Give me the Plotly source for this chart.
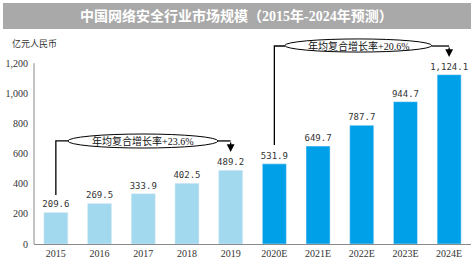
import plotly.graph_objects as go

# ---- data ----
years = ["2015", "2016", "2017", "2018", "2019", "2020E", "2021E", "2022E", "2023E", "2024E"]
values = [209.6, 269.5, 333.9, 402.5, 489.2, 531.9, 649.7, 787.7, 944.7, 1124.1]
forecast = [False, False, False, False, False, True, True, True, True, True]
y_ticks = [0, 200, 400, 600, 800, 1000, 1200]
title_text = "中国网络安全行业市场规模（2015年-2024年预测）"
unit_text = "亿元人民币"
cagr_hist = "年均复合增长率+23.6%"
cagr_fore = "年均复合增长率+20.6%"

LIGHT = "#A3D9EF"
DARK = "#00A0E9"
colors = [DARK if f else LIGHT for f in forecast]
xs = list(range(len(years)))

SERIF = "Liberation Serif, Noto Sans CJK SC, serif"
CJK = "Liberation Serif, Noto Sans CJK SC"

fig = go.Figure(go.Bar(
    x=xs, y=values, marker_color=colors, width=0.55,
    text=[f"{v:,.1f}" for v in values], textposition="outside",
    constraintext="none",
    textfont=dict(family="DejaVu Sans Mono", size=9, color="#333333"),
    cliponaxis=False, hoverinfo="skip",
))

fig.update_layout(
    width=476, height=264,
    margin=dict(l=34, r=5, t=18, b=20),
    paper_bgcolor="white", plot_bgcolor="white",
    showlegend=False,
    bargap=0.45,
)
fig.update_xaxes(
    range=[-0.5, 9.5], tickvals=xs, ticktext=years,
    showline=True, linecolor="#8a8a8a", linewidth=1,
    showgrid=False, zeroline=False, ticks="",
    tickfont=dict(family=SERIF, size=10, color="#333333"),
)
fig.update_yaxes(
    range=[0, 1500], tickvals=y_ticks, tickformat=",",
    showline=False, showgrid=False, zeroline=False, ticks="",
    ticklabelstandoff=5,
    tickfont=dict(family=SERIF, size=10, color="#333333"),
)

shapes = []
# title banner
shapes.append(dict(type="rect", xref="paper", yref="paper",
                   x0=-0.071, x1=1.0, y0=0.951, y1=1.066,
                   fillcolor="#A9A9A9", line=dict(width=0), layer="below"))
# y axis line
shapes.append(dict(type="line", xref="paper", yref="y", x0=0, x1=0, y0=0, y1=y_ticks[-1],
                   line=dict(color="#8a8a8a", width=1)))
# bracket 1 (historical)
shapes.append(dict(type="path", xref="x", yref="y",
                   path="M 0,325 L 0,684 L 0.28,684", line=dict(color="black", width=1.3)))
shapes.append(dict(type="line", xref="x", yref="y", x0=3.7, x1=4, y0=684, y1=684,
                   line=dict(color="black", width=1.3)))
shapes.append(dict(type="circle", xref="x", yref="y", x0=0.275, x1=3.71, y0=637, y1=730,
                   fillcolor="white", line=dict(color="black", width=1)))
# bracket 2 (forecast)
shapes.append(dict(type="path", xref="x", yref="y",
                   path="M 5,657 L 5,1314 L 5.25,1314", line=dict(color="black", width=1.3)))
shapes.append(dict(type="line", xref="x", yref="y", x0=8.59, x1=9, y0=1314, y1=1314,
                   line=dict(color="black", width=1.3)))
shapes.append(dict(type="circle", xref="x", yref="y", x0=5.24, x1=8.60, y0=1274, y1=1361,
                   fillcolor="white", line=dict(color="black", width=1)))
fig.update_layout(shapes=shapes)

annotations = [
    dict(text=title_text, xref="paper", yref="paper", x=0.4645, y=1.009,
         xanchor="center", yanchor="middle", showarrow=False,
         font=dict(family=CJK, size=14, color="white", weight="bold")),
    dict(text=unit_text, xref="paper", yref="paper", x=-0.055, y=0.889,
         xanchor="left", yanchor="middle", showarrow=False,
         font=dict(family=CJK, size=9, color="#333333")),
    dict(text=cagr_hist, xref="x", yref="y", x=1.99, y=684, showarrow=False,
         xanchor="center", yanchor="middle",
         font=dict(family=CJK, size=10, color="#111111")),
    dict(text=cagr_fore, xref="x", yref="y", x=6.92, y=1314, showarrow=False,
         xanchor="center", yanchor="middle",
         font=dict(family=CJK, size=10, color="#111111")),
    dict(text="", x=4, y=611, xref="x", yref="y", ax=4, ay=684, axref="x", ayref="y",
         showarrow=True, arrowhead=2, arrowsize=1.2, arrowwidth=1.3, arrowcolor="black"),
    dict(text="", x=9, y=1241, xref="x", yref="y", ax=9, ay=1314, axref="x", ayref="y",
         showarrow=True, arrowhead=2, arrowsize=1.2, arrowwidth=1.3, arrowcolor="black"),
]
fig.update_layout(annotations=annotations)

fig.write_html("out.html")
